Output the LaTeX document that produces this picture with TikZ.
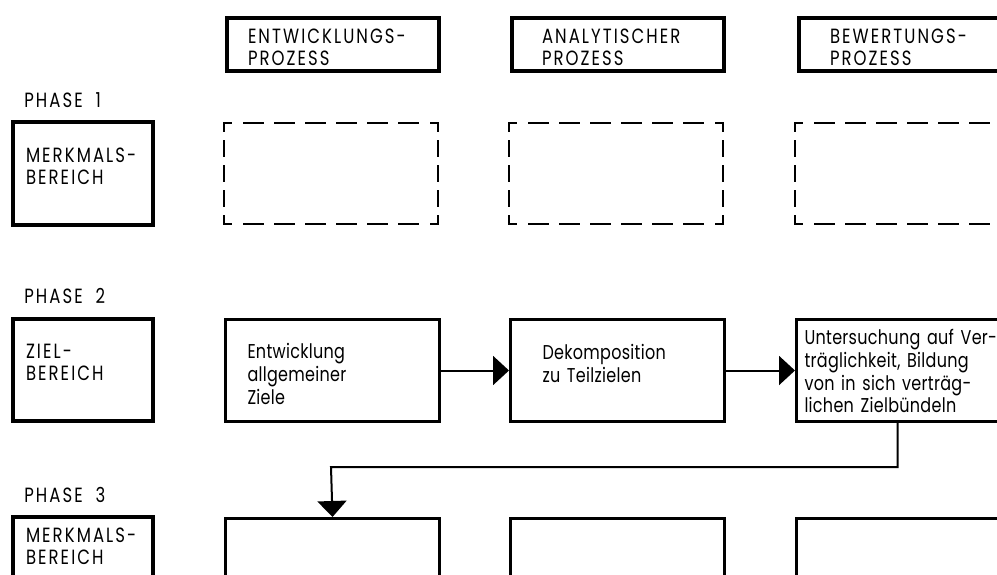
\documentclass[tikz,border=0pt]{standalone}
\usepackage{fontspec}
\setmainfont{Poppins}[FakeStretch=0.8, LetterSpace=1.5]
\newfontfamily\kap{Poppins}[FakeStretch=0.8, LetterSpace=10]
\newcommand{\kapfont}{\kap\fontsize{10.3}{11.2}\selectfont}
\usetikzlibrary{arrows.meta,positioning}

\begin{document}
\begin{tikzpicture}[x=0.5pt,y=-0.5pt,
	font=\fontsize{10}{11.4}\selectfont,
	kopf/.style={draw, line width=2pt, anchor=north west, align=left, inner sep=0pt,
		font=\kapfont, minimum width=106pt, text height=12.5pt, text depth=14pt},
	feld/.style={draw, line width=2pt, anchor=north west, align=left, inner sep=0pt,
		font=\kapfont, minimum width=70pt, text width=57pt},
	phase/.style={anchor=base west, inner sep=0pt, font=\kapfont},
	leer/.style={anchor=north west, inner sep=0pt, outer sep=0pt,
		minimum width=107pt, minimum height=50.5pt},
	waag/.style={line width=1.45pt, line cap=rect, dash pattern=on 9pt off 6.57pt, dash phase=5.5pt},
	senk/.style={line width=1.45pt, line cap=rect, dash pattern=on 7.2pt off 5.22pt, dash phase=3.2pt},
	stufe/.style={draw, line width=1.5pt, anchor=north west, align=left, inner sep=0pt,
		minimum width=107pt},
	pfeil/.style={line width=1pt, -{Triangle[length=8pt,width=14.5pt]}},
	]
	\useasboundingbox (0,0) rectangle (997,574);
	\clip (0,0) rectangle (997,574);
	% Prozesse
	\node[kopf, text width=85pt] (kentw) at (225,16) {ENTWICKLUNGS-\\PROZESS};
	\node[kopf, text width=76pt] (kanal) at (510,16) {ANALYTISCHER\\PROZESS};
	\node[kopf, text width=75pt] (kbew) at (797,16) {BEWERTUNGS-\\PROZESS};
	% Phase 1
	\node[phase] (ph1) at (24,107) {PHASE\ \ 1};
	\node[feld, text height=20pt, text depth=31.5pt] (merk1) at (11,120) {MERKMALS-\\BEREICH};
	\node[leer] (m1a) at (224,123) {};
	\node[leer] (m1b) at (509,123) {};
	\node[leer] (m1c) at (795,123) {};
	\foreach \b in {m1a,m1b,m1c}{
		\draw[waag] (\b.north west) -- (\b.north east) (\b.south west) -- (\b.south east);
		\draw[senk] (\b.north west) -- (\b.south west) (\b.north east) -- (\b.south east);
	}
	% Phase 2
	\node[phase] (ph2) at (24,303) {PHASE\ \ 2};
	\node[feld, text height=19.5pt, text depth=31.5pt] (ziel) at (11,317) {ZIEL-\\BEREICH};
	\node[stufe, text width=85pt, text height=19.5pt, text depth=31.5pt] (entw) at (224,318)
		{Entwicklung\\allgemeiner\\Ziele};
	\node[stufe, text width=75pt, text height=20pt, text depth=31pt] (dekomp) at (509,318)
		{Dekomposition\\zu Teilzielen};
	\node[stufe, text width=99pt, text height=12.5pt, text depth=38.5pt] (unter) at (795,318)
		{Untersuchung auf Ver-\\träglichkeit, Bildung\\von in sich verträg-\\lichen Zielbündeln};
	\draw[pfeil] (entw) -- (dekomp);
	\draw[pfeil] (dekomp) -- (unter);
	% Phase 3
	\node[phase] (ph3) at (24,502) {PHASE\ \ 3};
	\node[feld, text height=12.5pt, text depth=40pt] (merk3) at (11,515) {MERKMALS-\\BEREICH};
	\node[stufe, minimum height=60pt] (e3) at (224,517) {};
	\node[stufe, minimum height=60pt] (a3) at (509,517) {};
	\node[stufe, minimum height=60pt] (b3) at (795,517) {};
	\coordinate (knick) at (331,467);
	\draw[pfeil] ([xshift=-3pt]unter.south) |- (knick) -- (e3.north);
\end{tikzpicture}
\end{document}
